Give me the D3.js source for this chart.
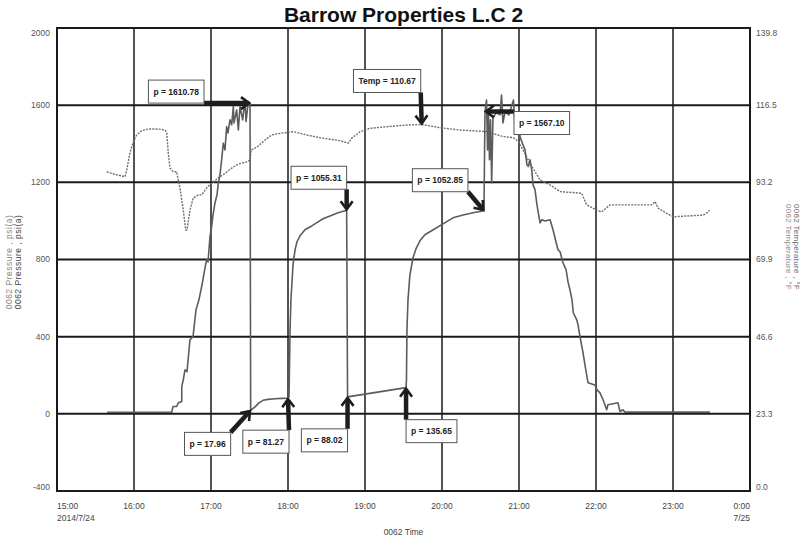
<!DOCTYPE html>
<html><head><meta charset="utf-8">
<script src="https://cdn.jsdelivr.net/npm/d3@7"></script>
<style>
html,body{margin:0;padding:0;background:#fff;}
svg{display:block;font-family:"Liberation Sans",Arial,sans-serif;}
</style></head><body>
<svg id="chart" width="809" height="541"></svg>
<script>
// ---------------- data ----------------
const chartTitle = "Barrow Properties L.C 2";
const startTime = "2014-07-24 15:00";
const endTime = "2014-07-25 00:00";
const pressureTicks = [-400, 0, 400, 800, 1200, 1600, 2000];
const temperatureTicks = [0.0, 23.3, 46.6, 69.9, 93.2, 116.5, 139.8];
const timeTickLabels = ["15:00","16:00","17:00","18:00","19:00","20:00","21:00","22:00","23:00","0:00"];
const dateTickLabels = ["2014/7/24","","","","","","","","","7/25"];
const xAxisTitle = "0062 Time";
const leftAxisTitles = ["0062 Pressure , psi(a)", "0062 Pressure , psi(a)"];
const rightAxisTitles = ["0062 Temperature , \u00B0F", "0062 Temperature , \u00B0F"];

// [minutes after 15:00, psi(a)]
const pressure = [
[39,8],[89.4,8],[90.4,38],[93.3,38],[94.5,57],[97.2,64],[97.2,141],[98.4,176],[99.7,228],[101.3,218],
[103.6,384],[106,400],[108.3,539],[110.6,591],[113,669],[115.3,757],[116.6,798],[117.7,788],[119.2,919],
[120.5,971],[121.6,1031],[123.1,1094],[124.7,1135],[125.7,1197],[127,1239],[128.3,1317],[129.6,1403],
[130.9,1368],[132.2,1489],[133.2,1456],[134.8,1524],[136.1,1498],[137.4,1593],[137.9,1508],[140,1576],
[141.3,1472],[142.6,1593],[144.7,1524],[146.5,1627],[147.3,1515],[149.1,1619],[150.4,1610.78],
[150.9,17.96],[154.3,36],[157.4,57],[160.5,70],[164.4,75],[169.9,78],[175.3,80],[180,81.27],
[180.8,88],[181.6,435],[182.3,591],[183.9,772],[185.5,850],[187,892],[189.4,923],[193.2,954],[198.5,974],
[203.4,995],[207.3,1011],[212.7,1026],[219,1042],[225.7,1055.31],
[226.4,88.02],[272,135.65],
[272.3,176],[272.7,435],[273.5,591],[275,720],[277.4,809],[279.7,855],[282.8,897],[286.7,928],[293.2,954],
[300.8,985],[308.6,1016],[316.4,1031],[324.2,1042],[332.7,1052.85],
[333.5,1567.1],[334.7,1627],[335.5,1368],[336.2,1560],[337,1317],[337.8,1524],[338.7,1197],[339.7,1534],
[342.1,1560],[345.2,1550],[346.4,1653],[347.5,1508],[349.1,1565],[352.2,1550],[355.7,1627],[356.9,1498],
[358.4,1550],[360,1513],
[360.8,1437],[363.1,1394],[364.7,1368],[366.2,1291],[367.3,1282],[368.6,1317],[369.9,1265],[370.9,1187],
[372.5,1161],[374,1083],[376.4,990],[377.7,1006],[380.3,1000],[384.2,1006],[386.5,954],[388.8,892],
[390.4,850],[392,840],[394.3,783],[396.7,746],[398.2,684],[399.7,643],[401.3,591],[402.3,524],[405,487],
[406,461],[407.5,401],[409.9,316],[411.4,254],[413.8,161],[419.2,150],[420.8,124],[423.1,109],[425.5,73],
[428.3,21],[429.3,47],[437.1,57],[438.7,12],[441,21],[442.6,9],[508.8,9]
];

// [minutes after 15:00, °F]
const temperature = [
[38.7,96.4],[45.2,95.6],[53,94.9],[54.3,96.9],[56.9,102.1],[59.5,105.5],[62.1,107.5],[66,108.8],
[71.1,109.3],[78.9,109.3],[84.2,109],[85.5,108.1],[86.7,102.1],[88,97.5],[90.6,96.4],[93.3,96.4],
[94,94.9],[95.8,91.5],[98.4,84.8],[100.3,78.8],[101.3,78.8],[103.6,84.8],[106.2,88.5],[110.1,89.4],
[112.7,89.4],[116.6,91.5],[120.5,93],[125.7,94.5],[130.9,95.9],[136.1,97.5],[141.3,98.7],[147.8,99.4],
[150.4,99.9],[151.2,103],[153,103.2],[156.9,104.2],[162.1,106],[167.3,107.5],[173.8,108],[184.1,108.5],
[194.6,107.5],[207.5,106.5],[220.5,105.8],[227,105],[229.6,106.5],[236.1,108.5],[243.9,109.5],
[256.9,110],[272.5,110.5],[284.2,110.67],[298.4,109.7],[314,109],[334.8,108.5],[347.8,107],
[355.6,106.7],[359.5,105.5],[366,100.9],[368.6,98.9],[376.4,93.9],[384.2,92.4],[392,90.4],[408.8,89.9],
[412.7,86.4],[420.5,84.8],[424.4,84.3],[430.9,86.4],[436.1,86.4],[463.4,86.4],[466,87.4],[468.5,85.4],
[475.1,83.8],[480.2,82.8],[503.6,83.3],[507.5,84.3],[508.3,84.8]
];

const annotations = [
  {series:"pressure", minute:150.4, value:1610.78, label:"p = 1610.78"},
  {series:"temperature", minute:284.2, value:110.67, label:"Temp = 110.67"},
  {series:"pressure", minute:225.7, value:1055.31, label:"p = 1055.31"},
  {series:"pressure", minute:332.7, value:1052.85, label:"p = 1052.85"},
  {series:"pressure", minute:333.5, value:1567.10, label:"p = 1567.10"},
  {series:"pressure", minute:150.9, value:17.96, label:"p = 17.96"},
  {series:"pressure", minute:180, value:81.27, label:"p = 81.27"},
  {series:"pressure", minute:226.4, value:88.02, label:"p = 88.02"},
  {series:"pressure", minute:272, value:135.65, label:"p = 135.65"}
];

// ---------------- layout ----------------
const calloutLayout = [
  {dx:-46, dy:0, corner:"br"},
  {dx:-1, dy:-32, corner:"br"},
  {dx:0, dy:-21, corner:"br"},
  {dx:-16, dy:-19, corner:"br"},
  {dx:29, dy:0, corner:"tl"},
  {dx:-20, dy:22, corner:"tr"},
  {dx:1, dy:32, corner:"tr"},
  {dx:0, dy:32, corner:"tr"},
  {dx:0, dy:32, corner:"tl"}
];
const M = {left:57, right:750, top:28, bottom:491};

const parse = d3.timeParse("%Y-%m-%d %H:%M");
const t0 = parse(startTime), t1 = parse(endTime);
const toDate = m => new Date(t0.getTime() + m * 60000);

const svg = d3.select("#chart");
const x = d3.scaleTime().domain([t0, t1]).range([M.left, M.right]);
const yP = d3.scaleLinear().domain([-400, 2000]).range([M.bottom, M.top]);
const yT = d3.scaleLinear().domain([0, 139.8]).range([M.bottom, M.top]);

// grid
const xTicks = d3.timeHour.range(t0, new Date(t1.getTime() + 1));
svg.append("g").selectAll("line").data(xTicks.slice(1, -1)).join("line")
  .attr("x1", d => x(d)).attr("x2", d => x(d))
  .attr("y1", M.top).attr("y2", M.bottom)
  .attr("stroke", "#1a1a1a").attr("stroke-width", 1.5);
svg.append("g").selectAll("line").data(pressureTicks.slice(1, -1)).join("line")
  .attr("x1", M.left).attr("x2", M.right)
  .attr("y1", d => yP(d)).attr("y2", d => yP(d))
  .attr("stroke", "#1a1a1a").attr("stroke-width", 2);

// lines
const lineP = d3.line().x(d => x(toDate(d[0]))).y(d => yP(d[1]));
const lineT = d3.line().x(d => x(toDate(d[0]))).y(d => yT(d[1]));
svg.append("path").datum(temperature).attr("d", lineT)
  .attr("fill", "none").attr("stroke", "#6e6e6e").attr("stroke-width", 1.4)
  .attr("stroke-dasharray", "2,1.2");
svg.append("path").datum(pressure).attr("d", lineP)
  .attr("fill", "none").attr("stroke", "#5c5c5c").attr("stroke-width", 1.6)
  .attr("stroke-linejoin", "round");

// frame
svg.append("rect").attr("x", M.left).attr("y", M.top)
  .attr("width", M.right - M.left).attr("height", M.bottom - M.top)
  .attr("fill", "none").attr("stroke", "#1a1a1a").attr("stroke-width", 2);

// axes labels
const tickFont = 8.5;
svg.append("g").selectAll("text").data(pressureTicks).join("text")
  .attr("x", M.left - 7).attr("y", (d, i) => yP(d) + (i === pressureTicks.length - 1 ? 5 : (i === 0 ? -4 : 0)))
  .attr("dy", "0.35em").attr("text-anchor", "end")
  .attr("font-size", tickFont).attr("fill", "#555").text(d => d);
svg.append("g").selectAll("text").data(temperatureTicks).join("text")
  .attr("x", M.right + 6).attr("y", (d, i) => yT(d) + (i === temperatureTicks.length - 1 ? 5 : (i === 0 ? -4 : 0)))
  .attr("dy", "0.35em").attr("text-anchor", "start")
  .attr("font-size", tickFont).attr("fill", "#555").text(d => d3.format(".1f")(d));

const xl = svg.append("g");
xTicks.forEach((d, i) => {
  const anchor = i === 0 ? "start" : (i === xTicks.length - 1 ? "end" : "middle");
  xl.append("text").attr("x", x(d)).attr("y", 509).attr("text-anchor", anchor)
    .attr("font-size", tickFont).attr("fill", "#444").text(timeTickLabels[i]);
  if (dateTickLabels[i]) xl.append("text").attr("x", x(d)).attr("y", 521).attr("text-anchor", anchor)
    .attr("font-size", tickFont).attr("fill", "#444").text(dateTickLabels[i]);
});
svg.append("text").attr("x", (M.left + M.right) / 2).attr("y", 535).attr("text-anchor", "middle")
  .attr("font-size", tickFont).attr("fill", "#444").text(xAxisTitle);

// axis titles
leftAxisTitles.forEach((t, i) => {
  svg.append("text").attr("transform", `translate(${12 + i * 8.5},262) rotate(-90)`)
    .attr("text-anchor", "middle").attr("font-size", 8.5).attr("letter-spacing", 0.5)
    .attr("fill", i === 0 ? "#888" : "#444").text(t);
});
rightAxisTitles.forEach((t, i) => {
  svg.append("text").attr("transform", `translate(${794 - i * 8.5},247) rotate(90)`)
    .attr("text-anchor", "middle").attr("font-size", 8).attr("letter-spacing", 0.3)
    .attr("fill", i === 0 ? "#666" : "#888").text(t);
});

// title
svg.append("text").attr("x", (M.left + M.right) / 2).attr("y", 22).attr("text-anchor", "middle")
  .attr("font-size", 21).attr("font-weight", "bold").attr("fill", "#111").text(chartTitle);

// callouts
const cg = svg.append("g");
annotations.forEach((a, i) => {
  const L = calloutLayout[i];
  const tx = x(toDate(a.minute));
  const ty = a.series === "pressure" ? yP(a.value) : yT(a.value);
  const sx = tx + L.dx, sy = ty + L.dy;
  const len = Math.hypot(tx - sx, ty - sy);
  const ux = (tx - sx) / len, uy = (ty - sy) / len;
  const nx = -uy, ny = ux;
  cg.append("line").attr("x1", sx).attr("y1", sy).attr("x2", tx - ux * 2).attr("y2", ty - uy * 2)
    .attr("stroke", "#1e1e1e").attr("stroke-width", 4.5);
  const hx = tx - ux * 1, hy = ty - uy * 1;
  cg.append("path")
    .attr("d", `M${hx - ux * 8 + nx * 6},${hy - uy * 8 + ny * 6}L${hx},${hy}L${hx - ux * 8 - nx * 6},${hy - uy * 8 - ny * 6}`)
    .attr("fill", "none").attr("stroke", "#1e1e1e").attr("stroke-width", 2.6).attr("stroke-linejoin", "miter");
  const txt = cg.append("text").attr("font-size", 8.5).attr("font-weight", "bold").attr("fill", "#222")
    .attr("text-anchor", "middle").attr("dy", "0.35em").text(a.label);
  const w = txt.node().getComputedTextLength() + 10, h = 23;
  const bx = L.corner[1] === "r" ? sx - w : sx;
  const by = L.corner[0] === "b" ? sy - h : sy;
  cg.insert("rect", () => txt.node()).attr("x", bx).attr("y", by).attr("width", w).attr("height", h)
    .attr("fill", "#fff").attr("stroke", "#555").attr("stroke-width", 1);
  txt.attr("x", bx + w / 2).attr("y", by + h / 2);
});
</script>
</body></html>
